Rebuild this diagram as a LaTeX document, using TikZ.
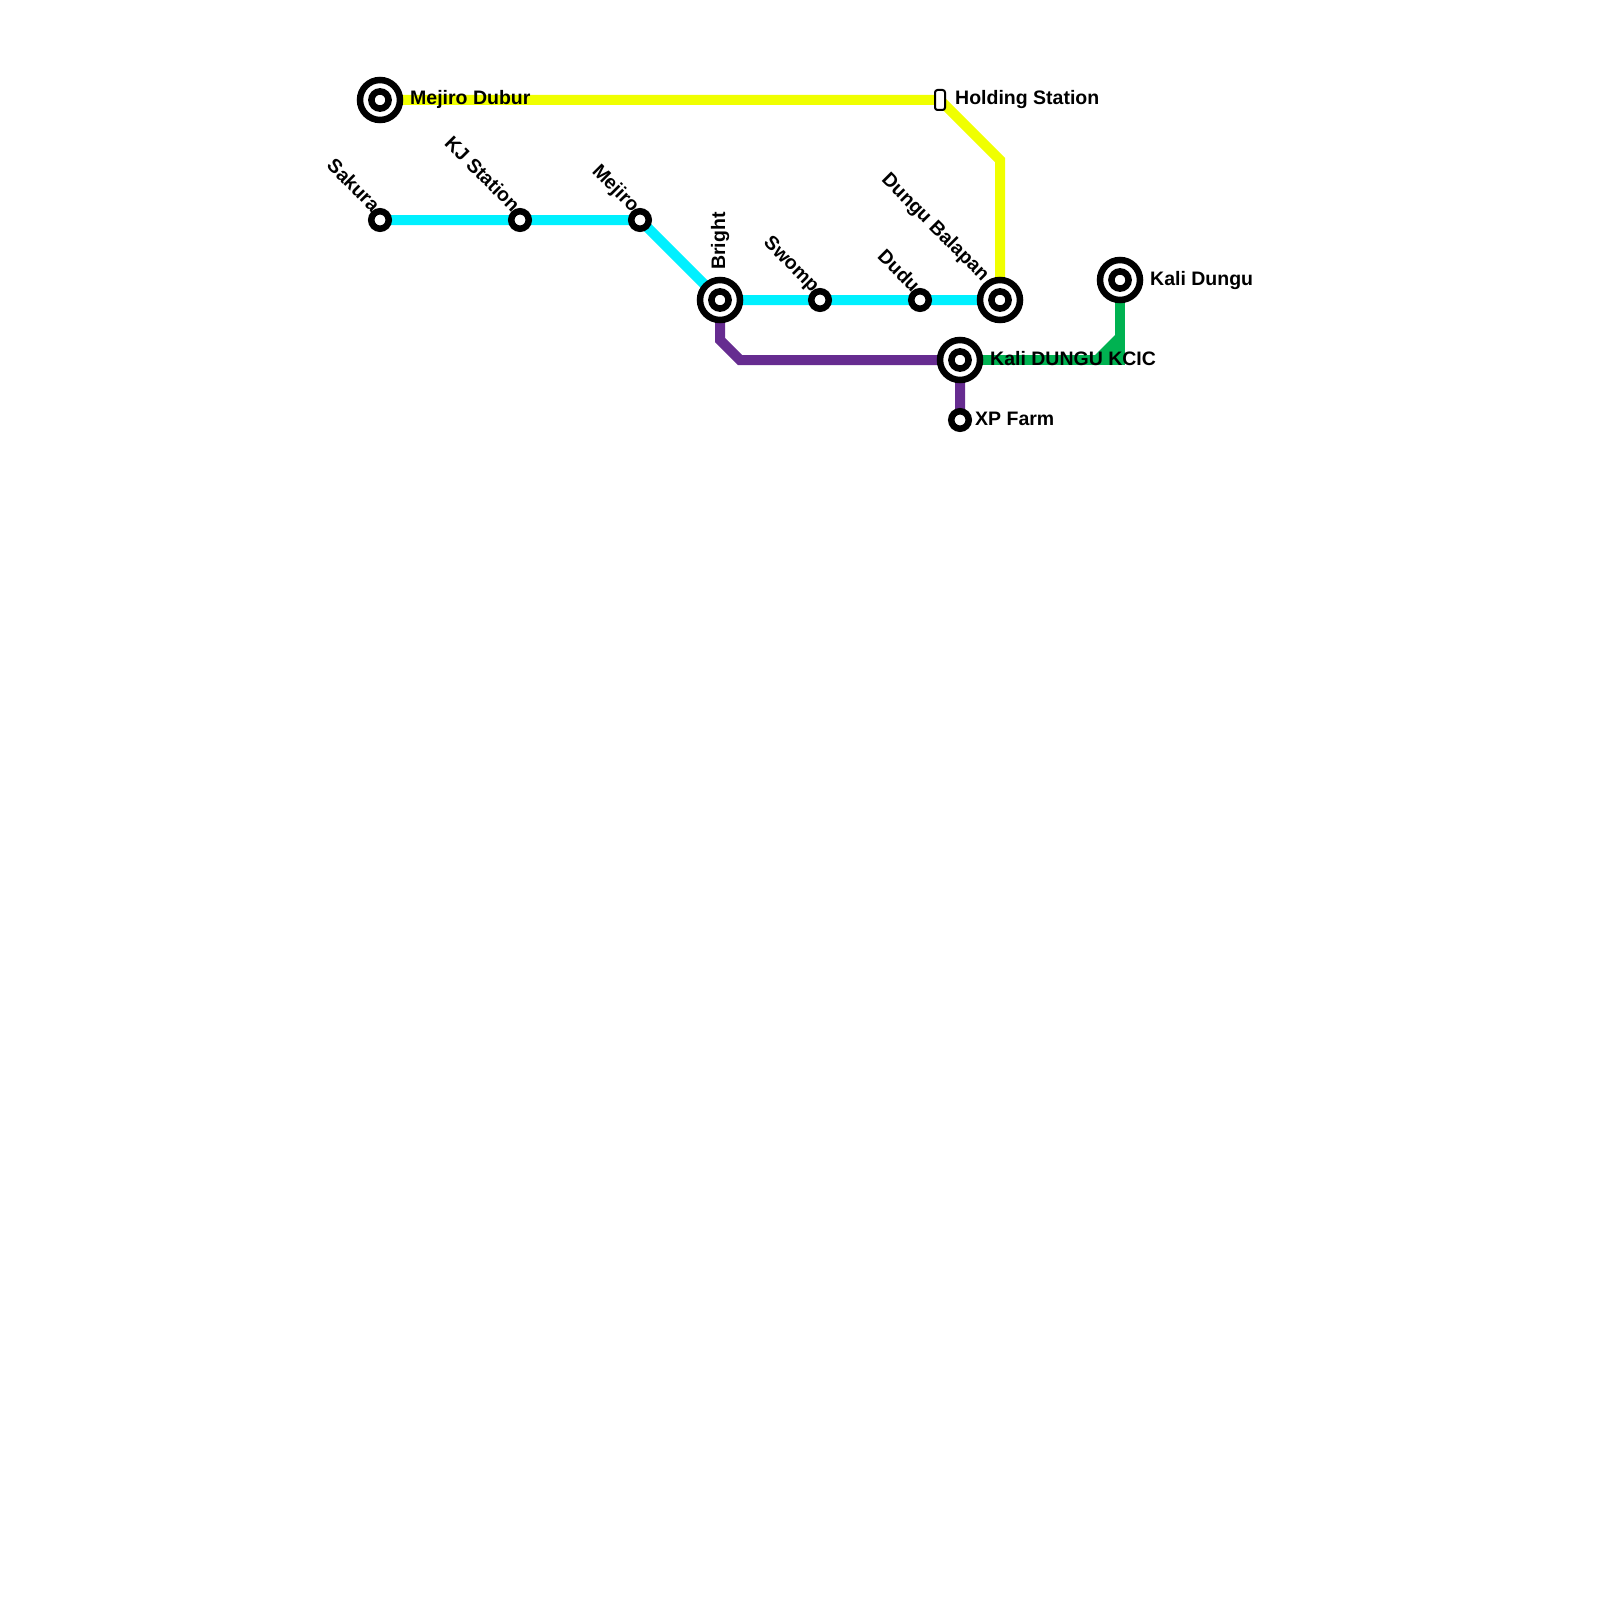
\documentclass[tikz,border=0pt]{standalone}
\usepackage{fontspec}
\setmainfont{Liberation Sans}
\usetikzlibrary{backgrounds}
\definecolor{lineY}{HTML}{F0FF00}
\definecolor{lineC}{HTML}{00F0FF}
\definecolor{lineP}{HTML}{662C90}
\definecolor{lineG}{HTML}{00B251}
\tikzset{
  stn/.style={circle,draw=black,fill=white,line width=6.5pt,minimum size=17.5pt,inner sep=0pt},
  hub/.style={circle,draw=black,fill=white,line width=6.5pt,minimum size=40pt,inner sep=0pt,
    path picture={\draw[black,line width=6.5pt,fill=white] (path picture bounding box.center) circle (8.6pt);}},
  hold/.style={rectangle,rounded corners=2.5pt,draw=black,fill=white,line width=2pt,minimum width=10pt,minimum height=20pt,inner sep=0pt},
  lbl/.style={font=\bfseries\fontsize{19.5}{22}\selectfont,text=black,inner sep=0pt,anchor=base west},
  rlbl/.style={font=\bfseries\fontsize{19.5}{22}\selectfont,text=black,inner sep=0pt,rotate=-45,anchor=base east},
  vlbl/.style={font=\bfseries\fontsize{19.5}{22}\selectfont,text=black,inner sep=0pt,rotate=90,anchor=base west},
  route/.style={line width=10pt,line join=miter,line cap=butt}
}
\begin{document}
\begin{tikzpicture}[x=1pt,y=-1pt]
\useasboundingbox (0,0) rectangle (1600,1600);
\node[hub] (mdubur) at (380,100) {};
\node[stn] (sakura) at (380,220) {};
\node[stn] (kj) at (520,220) {};
\node[stn] (mejiro) at (640,220) {};
\node[hub] (bright) at (720,300) {};
\node[stn] (swomp) at (820,300) {};
\node[stn] (dudu) at (920,300) {};
\node[hub] (balapan) at (1000,300) {};
\node[hub] (kdungu) at (1120,280) {};
\node[hub] (kcic) at (960,360) {};
\node[stn] (xp) at (960,420) {};
\node[hold] (holding) at (940,100) {};
\begin{pgfonlayer}{background}
\draw[route,lineY] (mdubur.center) -- (holding.center) -- (1000,160) -- (balapan.center);
\draw[route,lineC] (sakura.center) -- (kj.center) -- (mejiro.center) -- (bright.center) -- (swomp.center) -- (dudu.center) -- (balapan.center);
\draw[route,lineP] (bright.center) -- (720,340) -- (740,360) -- (kcic.center) -- (xp.center);
\draw[route,lineG] (kcic.center) -- (1120,360) -- (kdungu.center);
\fill[lineG] (1090,360) -- (1120,330) -- (1120,360) -- cycle;
\end{pgfonlayer}
\node[lbl] (tmd) at (410,105) {Mejiro Dubur};
\node[lbl] (thold) at (955,105) {Holding Station};
\node[lbl] (tkd) at (1150,285) {Kali Dungu};
\node[lbl] (tkcic) at (990,365) {Kali DUNGU KCIC};
\node[lbl] (txp) at (975,425) {XP Farm};
\node[rlbl] (tsak) at (372,213) {Sakura};
\node[rlbl] (tkj) at (512,213) {KJ Station};
\node[rlbl] (tmej) at (632,213) {Mejiro};
\node[rlbl] (tsw) at (812,293) {Swomp};
\node[rlbl] (tdu) at (912,293) {Dudu};
\node[rlbl] (tbal) at (982,282) {Dungu Balapan};
\node[vlbl] (tbr) at (725,270) {Bright};
\end{tikzpicture}
\end{document}
